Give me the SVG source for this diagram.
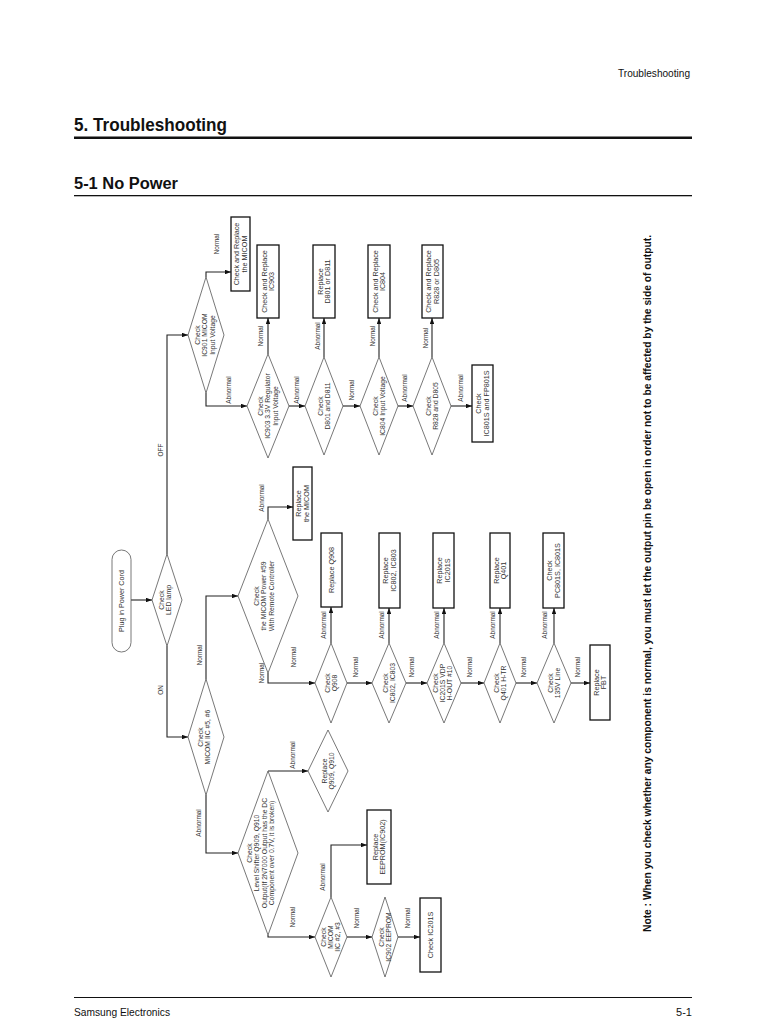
<svg xmlns="http://www.w3.org/2000/svg" width="768" height="1024" viewBox="0 0 768 1024">
<defs>
<marker id="ah" viewBox="0 0 8 6" refX="8" refY="3" markerWidth="6" markerHeight="4.5" markerUnits="userSpaceOnUse" orient="auto"><path d="M0,0 L8,3 L0,6 z" fill="#111"/></marker>
<style>
.d{fill:#fff;stroke:#555;stroke-width:0.8}
.b{fill:#fff;stroke:#111;stroke-width:1.3}
.t{font-family:"Liberation Sans",Arial,sans-serif;font-size:6.8px;fill:#333;text-anchor:middle}
.bt{font-size:7.2px}
.l{font-family:"Liberation Sans",Arial,sans-serif;font-size:6.4px;fill:#333;text-anchor:middle}
.c{fill:none;stroke:#222;stroke-width:1.1;marker-end:url(#ah)}
.h{font-family:"Liberation Sans",Arial,sans-serif;fill:#111}
</style>
</defs>
<rect width="768" height="1024" fill="#fff"/>
<g id="header">
<text class="h" x="618" y="77" font-size="11" textLength="72" lengthAdjust="spacingAndGlyphs">Troubleshooting</text>
<text class="h" x="74" y="131" font-size="19" font-weight="bold" textLength="153" lengthAdjust="spacingAndGlyphs">5. Troubleshooting</text>
<rect x="74" y="136.5" width="618" height="2.5" fill="#111"/>
<text class="h" x="74" y="189" font-size="16" font-weight="bold" textLength="104" lengthAdjust="spacingAndGlyphs">5-1  No Power</text>
<rect x="74" y="195" width="618" height="1.3" fill="#111"/>
<rect x="74" y="997" width="618" height="1" fill="#111"/>
<text class="h" x="74" y="1016" font-size="11" textLength="96" lengthAdjust="spacingAndGlyphs">Samsung Electronics</text>
<text class="h" x="692" y="1016" font-size="11" text-anchor="end">5-1</text>
</g>
<g id="connectors">
<path class="c" d="M131,600 H152"/>
<path class="c" d="M167,554 V335 H188"/>
<path class="c" d="M206,277 V272 H231"/>
<path class="c" d="M206,393 V406 H247"/>
<path class="c" d="M268,354 V318"/>
<path class="c" d="M289,406 H305"/>
<path class="c" d="M324,357 V318"/>
<path class="c" d="M343,406 H360"/>
<path class="c" d="M379,357 V318"/>
<path class="c" d="M398,406 H413"/>
<path class="c" d="M432,357 V318"/>
<path class="c" d="M451,406 H472"/>
<path class="c" d="M167,646 V737 H188"/>
<path class="c" d="M206,679 V596 H238"/>
<path class="c" d="M268,519 V507 H293"/>
<path class="c" d="M268,673 V683 H315"/>
<path class="c" d="M331,643 V607"/>
<path class="c" d="M347,683 H372"/>
<path class="c" d="M389,643 V608"/>
<path class="c" d="M406,683 H427"/>
<path class="c" d="M444,643 V608"/>
<path class="c" d="M461,683 H484"/>
<path class="c" d="M500,643 V608"/>
<path class="c" d="M516,683 H537"/>
<path class="c" d="M554,643 V608"/>
<path class="c" d="M571,683 H590"/>
<path class="c" d="M206,795 V853 H238"/>
<path class="c" d="M268,771 H308"/>
<path class="c" d="M268,935 V937 H315"/>
<path class="c" d="M331,897 V845 H367"/>
<path class="c" d="M347,937 H372"/>
<path class="c" d="M398,937 H420"/>
</g>
<g id="labels">
<text class="l" font-size="7.5" transform="translate(160,450) rotate(-90)" y="2.6">OFF</text>
<text class="l" font-size="7.5" transform="translate(160,690) rotate(-90)" y="2.6">ON</text>
<text class="l" transform="translate(217,244) rotate(-90)" y="2.2">Normal</text>
<text class="l" transform="translate(229,390) rotate(-90)" y="2.2">Abnormal</text>
<text class="l" transform="translate(261,336) rotate(-90)" y="2.2">Normal</text>
<text class="l" transform="translate(297,390) rotate(-90)" y="2.2">Abnormal</text>
<text class="l" transform="translate(318,336) rotate(-90)" y="2.2">Abnormal</text>
<text class="l" transform="translate(352,390) rotate(-90)" y="2.2">Normal</text>
<text class="l" transform="translate(373,336) rotate(-90)" y="2.2">Normal</text>
<text class="l" transform="translate(405,388) rotate(-90)" y="2.2">Abnormal</text>
<text class="l" transform="translate(426,338) rotate(-90)" y="2.2">Normal</text>
<text class="l" transform="translate(461,388) rotate(-90)" y="2.2">Abnormal</text>
<text class="l" transform="translate(200,655) rotate(-90)" y="2.2">Normal</text>
<text class="l" transform="translate(262,498) rotate(-90)" y="2.2">Abnormal</text>
<text class="l" transform="translate(262,673) rotate(-90)" y="2.2">Normal</text>
<text class="l" transform="translate(294,657) rotate(-90)" y="2.2">Normal</text>
<text class="l" transform="translate(324,625) rotate(-90)" y="2.2">Abnormal</text>
<text class="l" transform="translate(356,667) rotate(-90)" y="2.2">Normal</text>
<text class="l" transform="translate(382,625) rotate(-90)" y="2.2">Abnormal</text>
<text class="l" transform="translate(412,667) rotate(-90)" y="2.2">Normal</text>
<text class="l" transform="translate(437,625) rotate(-90)" y="2.2">Abnormal</text>
<text class="l" transform="translate(470,667) rotate(-90)" y="2.2">Normal</text>
<text class="l" transform="translate(493,625) rotate(-90)" y="2.2">Abnormal</text>
<text class="l" transform="translate(524,667) rotate(-90)" y="2.2">Normal</text>
<text class="l" transform="translate(545,625) rotate(-90)" y="2.2">Abnormal</text>
<text class="l" transform="translate(578,667) rotate(-90)" y="2.2">Normal</text>
<text class="l" transform="translate(199,823) rotate(-90)" y="2.2">Abnormal</text>
<text class="l" transform="translate(293,755) rotate(-90)" y="2.2">Abnormal</text>
<text class="l" transform="translate(293,917) rotate(-90)" y="2.2">Normal</text>
<text class="l" transform="translate(323,877) rotate(-90)" y="2.2">Abnormal</text>
<text class="l" transform="translate(357,918) rotate(-90)" y="2.2">Normal</text>
<text class="l" transform="translate(408,918) rotate(-90)" y="2.2">Normal</text>
</g>
<g id="n-plug">
<rect class="d" x="112" y="550" width="19" height="102" rx="9.5"/>
<text class="t bt" font-size="8.2" transform="translate(121.5,601) rotate(-90)" y="2.8">Plug in Power Cord</text>
</g>
<g id="n-led">
<polygon class="d" points="152,600 167,554 182,600 167,646"/>
<text class="t" transform="translate(165,600) rotate(-90)"><tspan x="0" y="-1.4">Check</tspan><tspan x="0" y="6.1">LED lamp</tspan></text>
</g>
<g id="n-ic901">
<polygon class="d" points="188,335 206,277 224,335 206,393"/>
<text class="t" transform="translate(205,335) rotate(-90)"><tspan x="0" y="-5.2">Check</tspan><tspan x="0" y="2.3">IC901 MICOM</tspan><tspan x="0" y="9.8">Input Voltage</tspan></text>
</g>
<g id="n-replace-micom-off">
<rect class="b" x="231" y="217" width="19" height="74"/>
<text class="t bt" transform="translate(240.5,254) rotate(-90)"><tspan x="0" y="-1.4">Check and Replace</tspan><tspan x="0" y="6.4">the MICOM</tspan></text>
</g>
<g id="n-ic903">
<polygon class="d" points="247,406 268,354 289,406 268,458"/>
<text class="t" transform="translate(268,406) rotate(-90)"><tspan x="0" y="-5.2">Check</tspan><tspan x="0" y="2.3">IC903 3.3V Regulator</tspan><tspan x="0" y="9.8">Input Voltage</tspan></text>
</g>
<g id="n-box-ic903">
<rect class="b" x="257" y="245" width="22" height="73"/>
<text class="t bt" transform="translate(268,281.5) rotate(-90)"><tspan x="0" y="-1.4">Check and Replace</tspan><tspan x="0" y="6.4">IC903</tspan></text>
</g>
<g id="n-d801">
<polygon class="d" points="305,406 324,357 343,406 324,455"/>
<text class="t" transform="translate(324,406) rotate(-90)"><tspan x="0" y="-1.4">Check</tspan><tspan x="0" y="6.1">D801 and D811</tspan></text>
</g>
<g id="n-box-d801">
<rect class="b" x="313" y="245" width="22" height="73"/>
<text class="t bt" transform="translate(324,281.5) rotate(-90)"><tspan x="0" y="-1.4">Replace</tspan><tspan x="0" y="6.4">D801 or D811</tspan></text>
</g>
<g id="n-ic804">
<polygon class="d" points="360,406 379,357 398,406 379,455"/>
<text class="t" transform="translate(379,406) rotate(-90)"><tspan x="0" y="-1.4">Check</tspan><tspan x="0" y="6.1">IC804 Input Voltage</tspan></text>
</g>
<g id="n-box-ic804">
<rect class="b" x="368" y="245" width="22" height="73"/>
<text class="t bt" transform="translate(379,281.5) rotate(-90)"><tspan x="0" y="-1.4">Check and Replace</tspan><tspan x="0" y="6.4">IC804</tspan></text>
</g>
<g id="n-r828">
<polygon class="d" points="413,406 432,357 451,406 432,455"/>
<text class="t" transform="translate(432,406) rotate(-90)"><tspan x="0" y="-1.4">Check</tspan><tspan x="0" y="6.1">R828 and D805</tspan></text>
</g>
<g id="n-box-r828">
<rect class="b" x="422" y="245" width="21" height="73"/>
<text class="t bt" transform="translate(432.5,281.5) rotate(-90)"><tspan x="0" y="-1.4">Check and Replace</tspan><tspan x="0" y="6.4">R828 or D805</tspan></text>
</g>
<g id="n-box-ic801s">
<rect class="b" x="472" y="365" width="21" height="77"/>
<text class="t bt" transform="translate(482.5,403.5) rotate(-90)"><tspan x="0" y="-1.4">Check</tspan><tspan x="0" y="6.4">IC801S and FP801S</tspan></text>
</g>
<g id="n-micom56">
<polygon class="d" points="188,737 206,679 224,737 206,795"/>
<text class="t" transform="translate(204,737) rotate(-90)"><tspan x="0" y="-1.4">Check</tspan><tspan x="0" y="6.1">MICOM IIC #5, #6</tspan></text>
</g>
<g id="n-power59">
<polygon class="d" points="238,596 268,519 298,596 268,673"/>
<text class="t" transform="translate(264,596) rotate(-90)"><tspan x="0" y="-5.2">Check</tspan><tspan x="0" y="2.3">the MICOM Power #59</tspan><tspan x="0" y="9.8">With Remote Controller</tspan></text>
</g>
<g id="n-replace-micom-on">
<rect class="b" x="293" y="467" width="19" height="73"/>
<text class="t bt" transform="translate(302.5,503.5) rotate(-90)"><tspan x="0" y="-1.4">Replace</tspan><tspan x="0" y="6.4">the MICOM</tspan></text>
</g>
<g id="n-q908">
<polygon class="d" points="315,683 331,643 347,683 331,723"/>
<text class="t" transform="translate(331,683) rotate(-90)"><tspan x="0" y="-1.4">Check</tspan><tspan x="0" y="6.1">Q908</tspan></text>
</g>
<g id="n-box-q908">
<rect class="b" x="321" y="533" width="21" height="74"/>
<text class="t bt" transform="translate(331.5,570) rotate(-90)" y="2.5">Replace Q908</text>
</g>
<g id="n-ic802">
<polygon class="d" points="372,683 389,643 406,683 389,723"/>
<text class="t" transform="translate(389,683) rotate(-90)"><tspan x="0" y="-1.4">Check</tspan><tspan x="0" y="6.1">IC802, IC803</tspan></text>
</g>
<g id="n-box-ic802">
<rect class="b" x="379" y="533" width="21" height="75"/>
<text class="t bt" transform="translate(389.5,570.5) rotate(-90)"><tspan x="0" y="-1.4">Replace</tspan><tspan x="0" y="6.4">IC802, IC803</tspan></text>
</g>
<g id="n-ic201s">
<polygon class="d" points="427,683 444,643 461,683 444,723"/>
<text class="t" font-size="6.3" transform="translate(443,683) rotate(-90)"><tspan x="0" y="-4.9">Check</tspan><tspan x="0" y="2.2">IC201S VDP</tspan><tspan x="0" y="9.3">H-OUT #10</tspan></text>
</g>
<g id="n-box-ic201s">
<rect class="b" x="433" y="533" width="21" height="75"/>
<text class="t bt" transform="translate(443.5,570.5) rotate(-90)"><tspan x="0" y="-1.4">Replace</tspan><tspan x="0" y="6.4">IC201S</tspan></text>
</g>
<g id="n-q401">
<polygon class="d" points="484,683 500,643 516,683 500,723"/>
<text class="t" transform="translate(500,683) rotate(-90)"><tspan x="0" y="-1.4">Check</tspan><tspan x="0" y="6.1">Q401 H-TR</tspan></text>
</g>
<g id="n-box-q401">
<rect class="b" x="490" y="533" width="20" height="75"/>
<text class="t bt" transform="translate(500,570.5) rotate(-90)"><tspan x="0" y="-1.4">Replace</tspan><tspan x="0" y="6.4">Q401</tspan></text>
</g>
<g id="n-135v">
<polygon class="d" points="537,683 554,643 571,683 554,723"/>
<text class="t" transform="translate(554,683) rotate(-90)"><tspan x="0" y="-1.4">Check</tspan><tspan x="0" y="6.1">135V Line</tspan></text>
</g>
<g id="n-box-pc801s">
<rect class="b" x="543" y="533" width="21" height="75"/>
<text class="t bt" transform="translate(553.5,570.5) rotate(-90)"><tspan x="0" y="-1.4">Check</tspan><tspan x="0" y="6.4">PC801S, IC801S</tspan></text>
</g>
<g id="n-box-fbt">
<rect class="b" x="590" y="645" width="20" height="75"/>
<text class="t bt" transform="translate(600,682.5) rotate(-90)"><tspan x="0" y="-1.4">Replace</tspan><tspan x="0" y="6.4">FBT</tspan></text>
</g>
<g id="n-levelshifter">
<polygon class="d" points="238,853 268,771 298,853 268,935"/>
<text class="t" font-size="6.5" transform="translate(261,853) rotate(-90)"><tspan x="0" y="-9">Check</tspan><tspan x="0" y="-1.6">Level Shifter Q909, Q910</tspan><tspan x="0" y="5.8">Output(If 2N7000 Output has the DC</tspan><tspan x="0" y="13.2">Component over 0.7V, it is broken)</tspan></text>
</g>
<g id="n-q909">
<polygon class="d" points="308,771 328,730 348,771 328,812"/>
<text class="t" transform="translate(328,771) rotate(-90)"><tspan x="0" y="-1.4">Replace</tspan><tspan x="0" y="6.1">Q909, Q910</tspan></text>
</g>
<g id="n-micom23">
<polygon class="d" points="315,937 331,897 347,937 331,977"/>
<text class="t" font-size="6.3" transform="translate(331,937) rotate(-90)"><tspan x="0" y="-4.9">Check</tspan><tspan x="0" y="2.2">MICOM</tspan><tspan x="0" y="9.3">IIC #2, #3</tspan></text>
</g>
<g id="n-box-eeprom">
<rect class="b" x="367" y="810" width="24" height="74"/>
<text class="t bt" transform="translate(379,847) rotate(-90)"><tspan x="0" y="-1.4">Replace</tspan><tspan x="0" y="6.4">EEPROM(IC902)</tspan></text>
</g>
<g id="n-ic902">
<polygon class="d" points="372,937 385,897 398,937 385,977"/>
<text class="t" font-size="6.3" transform="translate(385,937) rotate(-90)"><tspan x="0" y="-1.3">Check</tspan><tspan x="0" y="5.8">IC902 EEPROM</tspan></text>
</g>
<g id="n-box-checkic201s">
<rect class="b" x="420" y="898" width="21" height="74"/>
<text class="t bt" transform="translate(430.5,935) rotate(-90)" y="2.5">Check IC201S</text>
</g>
<g id="note">
<text class="h" font-size="10.5" font-weight="bold" transform="translate(651,932) rotate(-90)" textLength="697" lengthAdjust="spacingAndGlyphs">Note : When you check whether any component is normal, you must let the output pin be open in order not to be affected by the side of output.</text>
</g>
</svg>
